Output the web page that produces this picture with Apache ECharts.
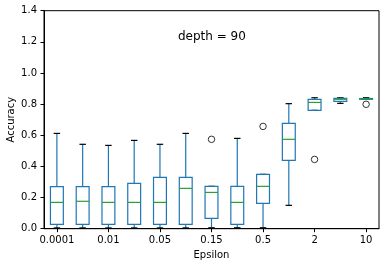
<!DOCTYPE html>
<html>
<head>
<meta charset="utf-8">
<script src="https://cdn.jsdelivr.net/npm/echarts@6/dist/echarts.min.js"></script>
<style>html,body{margin:0;padding:0;background:#fff}#c{width:389px;height:266px}</style>
</head>
<body>
<div id="c"></div>
<script>
var categories = ['0.0001','0.001','0.01','0.03','0.05','0.1','0.15','0.3','0.5','1','2','5','10'];
var whiskerLow  = [0.005,0.005,0.005,0.005,0.005,0.005,0.006,0.006,0.006,0.150,0.760,0.805,0.831];
var q1          = [0.028,0.028,0.028,0.028,0.028,0.028,0.066,0.028,0.163,0.439,0.760,0.818,0.831];
var median      = [0.169,0.176,0.169,0.169,0.169,0.259,0.233,0.169,0.272,0.574,0.811,0.831,0.833];
var q3          = [0.270,0.270,0.270,0.291,0.330,0.330,0.272,0.272,0.349,0.677,0.831,0.837,0.836];
var whiskerHigh = [0.612,0.542,0.535,0.567,0.542,0.612,0.272,0.580,0.349,0.803,0.841,0.841,0.841];
var outlierIdx  = [6, 8, 10, 12];
var outlierVal  = [0.574, 0.657, 0.445, 0.799];
var yTicks = [0, 0.2, 0.4, 0.6, 0.8, 1.0, 1.2, 1.4];

var boxData = categories.map(function(c, i){
  return [i, whiskerLow[i], q1[i], median[i], q3[i], whiskerHigh[i]];
});
var outData = outlierIdx.map(function(i, k){ return [i, outlierVal[k]]; });

var FONT = 'DejaVu Sans';
var chart = echarts.init(document.getElementById('c'), null, {renderer:'canvas'});
chart.setOption({
  animation: false,
  grid: {left: 44, right: 10, top: 10.7, bottom: 37.3, containLabel: false, outerBoundsMode: 'none',
         show: true, borderColor: '#000', borderWidth: 1},
  graphic: [{type:'text', left: 178, top: 31, style:{text:'depth = 90', font:'12px "DejaVu Sans"', fill:'#000'}}],
  xAxis: {
    type: 'category', data: categories, boundaryGap: true,
    name: 'Epsilon', nameLocation: 'middle', nameGap: 22, nameMoveOverlap: false,
    nameTextStyle: {fontFamily: FONT, fontSize: 10, color: '#000'},
    axisLine: {show: true, lineStyle: {color:'#000', width: 1}},
    axisTick: {show: true, alignWithLabel: true, interval: 1, length: 3.5, lineStyle: {color:'#000'}},
    axisLabel: {interval: 1, margin: 7, fontFamily: FONT, fontSize: 10, color: '#000'},
    splitLine: {show: false}
  },
  yAxis: {
    type: 'value', min: 0, max: 1.4, interval: 0.2,
    name: 'Accuracy', nameLocation: 'middle', nameGap: 28, nameMoveOverlap: false,
    nameTextStyle: {fontFamily: FONT, fontSize: 10, color: '#000'},
    axisLine: {show: true, lineStyle: {color:'#000', width: 1}},
    axisTick: {show: true, length: 3.5, lineStyle: {color:'#000'}},
    axisLabel: {margin: 7, fontFamily: FONT, fontSize: 10, color: '#000',
      formatter: function(v){ return v.toFixed(1); }},
    splitLine: {show: false}
  },
  series: [{
    type: 'custom',
    data: boxData,
    clip: false,
    renderItem: function(params, api){
      var idx = api.value(0);
      var band = api.size([1, 0])[0];
      var bw = band * 0.5, cw = band * 0.25;
      var pLow = api.coord([idx, api.value(1)]);
      var pQ1 = api.coord([idx, api.value(2)]);
      var pMed = api.coord([idx, api.value(3)]);
      var pQ3 = api.coord([idx, api.value(4)]);
      var pHigh = api.coord([idx, api.value(5)]);
      var x = pQ1[0];
      var blue = '#1f77b4';
      function line(x1,y1,x2,y2,color){
        return {type:'line', shape:{x1:x1,y1:y1,x2:x2,y2:y2}, style:{stroke:color, lineWidth:1.2}};
      }
      return {type:'group', children:[
        line(x, pQ3[1], x, pHigh[1], blue),
        line(x, pQ1[1], x, pLow[1], blue),
        line(x - cw/2, pHigh[1], x + cw/2, pHigh[1], '#000'),
        line(x - cw/2, pLow[1], x + cw/2, pLow[1], '#000'),
        {type:'rect', shape:{x: x - bw/2, y: pQ3[1], width: bw, height: pQ1[1] - pQ3[1]},
         style:{fill:'none', stroke: blue, lineWidth: 1.2}},
        line(x - bw/2, pMed[1], x + bw/2, pMed[1], '#2ca02c')
      ]};
    }
  }, {
    type: 'scatter',
    data: outData,
    symbol: 'circle',
    symbolSize: 6.5,
    itemStyle: {color: 'rgba(0,0,0,0)', borderColor: '#000', borderWidth: 1}
  }]
});
</script>
</body>
</html>
